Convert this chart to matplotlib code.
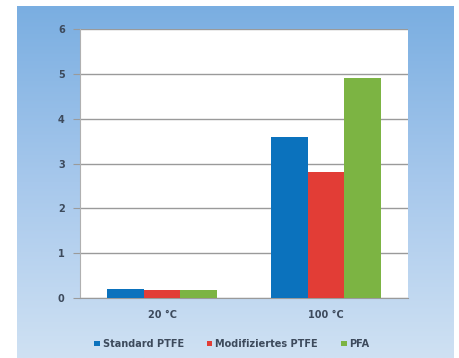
import numpy as np
import matplotlib
matplotlib.use("Agg")
import matplotlib.pyplot as plt
from matplotlib.colors import LinearSegmentedColormap
from matplotlib.patches import Patch

categories = ["20 °C", "100 °C"]
series_names = ["Standard PTFE", "Modifiziertes PTFE", "PFA"]
standard_ptfe = [0.2, 3.6]
modifiziertes_ptfe = [0.17, 2.8]
pfa = [0.18, 4.9]
y_ticks = [0, 1, 2, 3, 4, 5, 6]

colors = ["#0b72bd", "#e23d36", "#7cb443"]
text_color = "#3d4a5c"

fig = plt.figure(figsize=(4.59, 3.58), dpi=100, facecolor="white")

# blue gradient backdrop
bg = fig.add_axes([17 / 459, 0.0, 437 / 459, 1 - 6 / 358])
cmap = LinearSegmentedColormap.from_list("bgblue", ["#7aaee1", "#a7c8ec", "#cfe1f3"])
grad = np.linspace(0, 1, 256).reshape(-1, 1)
bg.imshow(grad, aspect="auto", cmap=cmap, extent=[0, 1, 0, 1], origin="upper")
bg.set_axis_off()

ax = fig.add_axes([80 / 459, 1 - 298 / 358, 328 / 459, 269 / 358])
ax.set_facecolor("white")

x = np.arange(len(categories))
w = 0.222
for i, (vals, name) in enumerate(zip([standard_ptfe, modifiziertes_ptfe, pfa], series_names)):
    ax.bar(x + (i - 1) * w, vals, width=w, color=colors[i], label=name, zorder=3)

ax.set_xlim(-0.5, 1.5)
ax.set_ylim(0, 6)
ax.set_yticks(y_ticks)
ax.set_yticklabels([str(t) for t in y_ticks], fontsize=7, fontweight="bold", color=text_color)
ax.set_xticks(x)
ax.set_xticklabels(categories, fontsize=7, fontweight="bold", color=text_color)
ax.yaxis.grid(True, color="#9a9a9a", linewidth=1.0, zorder=0)
ax.tick_params(axis="y", length=5, color="#9a9a9a", pad=6)
ax.tick_params(axis="x", length=0, pad=9)
for side in ["top", "right"]:
    ax.spines[side].set_visible(False)
ax.spines["left"].set_color("#b0b0b0")
ax.spines["bottom"].set_color("#9a9a9a")

handles = [Patch(facecolor=c, label=n) for c, n in zip(colors, series_names)]
leg = fig.legend(handles=handles, loc="center", bbox_to_anchor=(232 / 459, 1 - 344 / 358),
                 ncol=3, frameon=False, fontsize=7, handlelength=0.55, handleheight=0.55,
                 handletextpad=0.3, columnspacing=2.4)
for t in leg.get_texts():
    t.set_color(text_color)
    t.set_fontweight("bold")

fig.savefig("out.png", dpi=100, facecolor="white")
